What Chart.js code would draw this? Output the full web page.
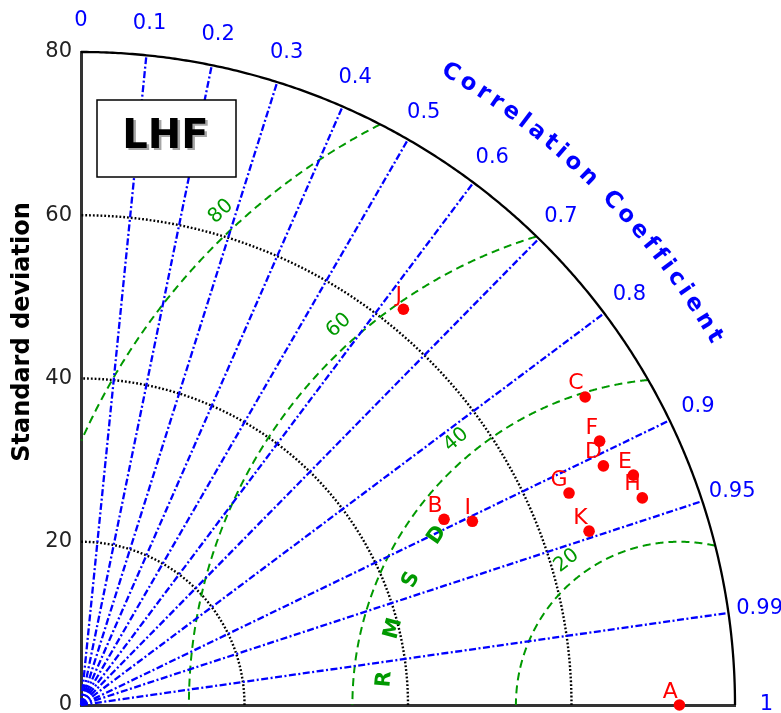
<!DOCTYPE html>
<html><head><meta charset="utf-8">
<style>html,body{margin:0;padding:0;background:#fff;overflow:hidden}</style>
<script src="https://cdn.jsdelivr.net/npm/chart.js@4.4.1/dist/chart.umd.min.js"></script>
</head><body>
<canvas id="c" width="781" height="713"></canvas>
<script>
// ---- data ----
const modelLabels = ['A','B','C','D','E','F','G','H','I','J','K'];
const modelStd    = [73.2, 49.9, 72.3, 70.3, 73.2, 71.2, 65.1, 73.2, 52.9, 62.5, 65.7];
const modelCorr   = [1.000, 0.890, 0.853, 0.909, 0.923, 0.891, 0.917, 0.938, 0.905, 0.631, 0.946];
const refStd = 73.2;
const stdMax = 80;
const stdTickValues = [0, 20, 40, 60, 80];
const stdGrid = [20, 40, 60];
const corrTicks = [0, 0.1, 0.2, 0.3, 0.4, 0.5, 0.6, 0.7, 0.8, 0.9, 0.95, 0.99, 1];
const corrTickLabels = ['0','0.1','0.2','0.3','0.4','0.5','0.6','0.7','0.8','0.9','0.95','0.99','1'];
const rmsdLevels = [20, 40, 60, 80];
const rmsdLevelLabels = ['20', '40', '60', '80'];
const panelTitle = 'LHF';
const yTitle = 'Standard deviation';
const corrTitle = 'Correlation Coefficient';
const rmsdTitle = 'RMSD';

// ---- style ----
Chart.defaults.font.family = "'DejaVu Sans', sans-serif";
const GREEN = '#009900', BLUE = '#0000ff', RED = '#ff0000';
const FONT = "'DejaVu Sans', sans-serif";

const points = modelStd.map((s, i) => ({
  x: s * modelCorr[i],
  y: s * Math.sqrt(Math.max(0, 1 - modelCorr[i] * modelCorr[i])),
  label: modelLabels[i]
}));

const taylorPlugin = {
  id: 'taylor',
  beforeDatasetsDraw(chart) {
    const ctx = chart.ctx, xs = chart.scales.x, ys = chart.scales.y;
    const P = (u, v) => [xs.getPixelForValue(u), ys.getPixelForValue(v)];
    const poly = pts => { ctx.beginPath(); pts.forEach((p, i) => i ? ctx.lineTo(p[0], p[1]) : ctx.moveTo(p[0], p[1])); ctx.stroke(); };
    ctx.save();
    // std dev dotted arcs
    ctx.strokeStyle = '#000'; ctx.lineWidth = 2.4; ctx.setLineDash([1.8, 2]);
    stdGrid.forEach(r => {
      const pts = [];
      for (let i = 0; i <= 240; i++) { const t = i / 240 * Math.PI / 2; pts.push(P(r * Math.cos(t), r * Math.sin(t))); }
      poly(pts);
    });
    // RMSD arcs centred on reference
    ctx.strokeStyle = GREEN; ctx.lineWidth = 2; ctx.setLineDash([8, 5]);
    rmsdLevels.forEach(r => {
      let seg = [];
      for (let i = 0; i <= 1440; i++) {
        const f = i / 1440 * Math.PI;
        const u = refStd + r * Math.cos(f), v = r * Math.sin(f);
        if (u >= 0 && u * u + v * v <= stdMax * stdMax) seg.push(P(u, v));
        else { if (seg.length > 1) poly(seg); seg = []; }
      }
      if (seg.length > 1) poly(seg);
    });
    // correlation rays
    ctx.strokeStyle = BLUE; ctx.lineWidth = 2.3; ctx.setLineDash([7, 2.5, 2, 2.5]);
    corrTicks.filter(c => c > 0 && c < 1).forEach(c => {
      const t = Math.acos(c);
      poly([P(0, 0), P(stdMax * Math.cos(t), stdMax * Math.sin(t))]);
    });
    // outer circle
    ctx.setLineDash([]); ctx.strokeStyle = '#000'; ctx.lineWidth = 2.3;
    const op = [];
    for (let i = 0; i <= 360; i++) { const t = i / 360 * Math.PI / 2; op.push(P(stdMax * Math.cos(t), stdMax * Math.sin(t))); }
    poly(op);
    ctx.restore();
  },
  afterDatasetsDraw(chart) {
    const ctx = chart.ctx, xs = chart.scales.x, ys = chart.scales.y;
    const P = (u, v) => [xs.getPixelForValue(u), ys.getPixelForValue(v)];
    ctx.save();
    // correlation tick labels
    ctx.fillStyle = BLUE; ctx.font = '21px ' + FONT; ctx.textAlign = 'center'; ctx.textBaseline = 'middle';
    corrTicks.forEach((c, i) => {
      const t = Math.acos(c), r = 83.85;
      const p = P(r * Math.cos(t), r * Math.sin(t));
      ctx.fillText(corrTickLabels[i], p[0], p[1]);
    });
    // curved title "Correlation Coefficient"
    ctx.font = 'bold 23px ' + FONT;
    const o = P(0, 0);
    const Rpx = xs.getPixelForValue(89.6) - xs.getPixelForValue(0);
    const chars = corrTitle.split('');
    const w = chars.map(ch => ctx.measureText(ch).width);
    const L0 = w.reduce((a, b) => a + b, 0) - w[0] / 2 - w[w.length - 1] / 2;
    const span = (59.7 - 30.2) * Math.PI / 180 * Rpx;
    const sp = (span - L0) / (chars.length - 1);
    let dist = 0;
    const th0 = 59.7 * Math.PI / 180;
    chars.forEach((ch, i) => {
      if (i > 0) dist += w[i - 1] / 2 + w[i] / 2 + sp;
      const th = th0 - dist / Rpx;
      const x = o[0] + Rpx * Math.cos(th), y = o[1] - Rpx * Math.sin(th);
      ctx.save(); ctx.translate(x, y); ctx.rotate(Math.atan2(Math.cos(th), Math.sin(th)));
      ctx.fillText(ch, 0, 0); ctx.restore();
    });
    // RMSD contour labels
    ctx.fillStyle = GREEN; ctx.font = '20px ' + FONT;
    const lblAng = [128, 130.1, 131.9, 132.9];
    const A = P(refStd, 0);
    const kx = xs.getPixelForValue(1) - xs.getPixelForValue(0);
    rmsdLevels.forEach((r, i) => {
      const f = lblAng[i] * Math.PI / 180, R = (r + 2.4) * kx;
      const x = A[0] + R * Math.cos(f), y = A[1] - R * Math.sin(f);
      ctx.save(); ctx.translate(x, y); ctx.rotate(Math.atan2(Math.cos(f), Math.sin(f)));
      ctx.fillText(rmsdLevelLabels[i], 0, 0); ctx.restore();
    });
    // RMSD curved word
    ctx.font = 'bold 21px ' + FONT;
    const rAng = [175, 165, 155, 145];
    rmsdTitle.split('').forEach((ch, i) => {
      const f = rAng[i] * Math.PI / 180, R = 36.2 * kx;
      const x = A[0] + R * Math.cos(f), y = A[1] - R * Math.sin(f);
      ctx.save(); ctx.translate(x, y); ctx.rotate(Math.atan2(Math.cos(f), Math.sin(f)));
      ctx.fillText(ch, 0, 0); ctx.restore();
    });
    // point labels
    ctx.fillStyle = RED; ctx.font = '22px ' + FONT; ctx.textAlign = 'right'; ctx.textBaseline = 'alphabetic';
    const meta = chart.getDatasetMeta(0);
    meta.data.forEach((el, i) => { ctx.fillText(points[i].label, el.x - 1.5, el.y - 7.5); });
    // panel box
    ctx.fillStyle = '#fff'; ctx.strokeStyle = '#000'; ctx.lineWidth = 1.5;
    ctx.fillRect(97, 100, 139, 77); ctx.strokeRect(97, 100, 139, 77);
    ctx.font = 'bold 40px ' + FONT; ctx.textAlign = 'center'; ctx.textBaseline = 'middle';
    ctx.fillStyle = 'rgba(0,0,0,0.35)'; ctx.fillText(panelTitle, 168, 140);
    ctx.fillStyle = '#000'; ctx.fillText(panelTitle, 165.5, 137.5);
    // y title
    ctx.font = 'bold 24px ' + FONT; ctx.fillStyle = '#000';
    ctx.save(); ctx.translate(23, 332); ctx.rotate(-Math.PI / 2); ctx.fillText(yTitle, 0, 0); ctx.restore();
    ctx.restore();
  }
};

new Chart(document.getElementById('c'), {
  type: 'scatter',
  data: { datasets: [{ data: points, pointRadius: 5.8, pointHoverRadius: 5.8, backgroundColor: RED, borderColor: RED, borderWidth: 0, clip: false }] },
  options: {
    responsive: false, animation: false, devicePixelRatio: 1, events: [],
    layout: { padding: { top: 52, right: 46, left: 0, bottom: 0 } },
    plugins: { legend: { display: false }, tooltip: { enabled: false } },
    scales: {
      x: { type: 'linear', min: 0, max: stdMax, position: 'bottom',
           ticks: { display: false }, grid: { display: false, drawTicks: false },
           border: { display: true, color: '#333', width: 3 },
           afterFit(s) { s.height = 8; s.paddingLeft = 0; s.paddingRight = 0; } },
      y: { type: 'linear', min: 0, max: stdMax, position: 'left',
           afterBuildTicks(s) { s.ticks = stdTickValues.map(v => ({ value: v })); },
           ticks: { font: { size: 21 }, color: '#222', padding: 9 },
           grid: { display: false, drawTicks: false },
           border: { display: true, color: '#333', width: 3 },
           afterFit(s) { s.width = 81; s.paddingTop = 0; s.paddingBottom = 0; } }
    }
  },
  plugins: [taylorPlugin]
});
</script>
</body></html>
